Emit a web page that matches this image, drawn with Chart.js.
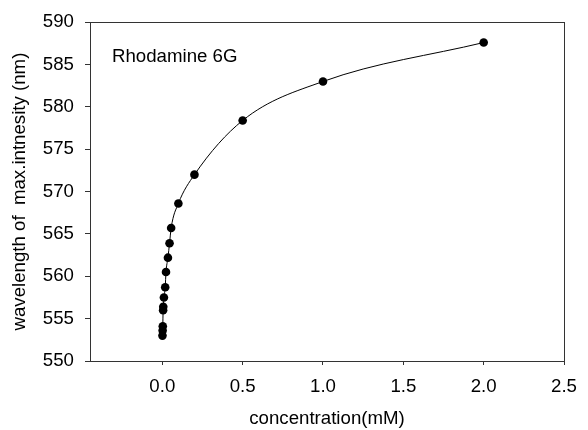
<!DOCTYPE html>
<html>
<head>
<meta charset="utf-8">
<script src="https://cdn.jsdelivr.net/npm/chart.js@4/dist/chart.umd.min.js"></script>
<style>
html,body{margin:0;padding:0;background:#fff;}
#wrap{width:588px;height:430px;position:relative;}
</style>
</head>
<body>
<div id="wrap"><canvas id="c" width="588" height="430"></canvas></div>
<script>
const concentration = [0.001, 0.002, 0.003, 0.005, 0.006, 0.01, 0.018, 0.023, 0.035, 0.045, 0.055, 0.1, 0.2, 0.5, 1.0, 2.0];
const wavelength = [553.0, 553.6, 554.1, 556.0, 556.4, 557.5, 558.7, 560.5, 562.2, 563.9, 565.7, 568.6, 572.0, 578.4, 583.0, 587.6];
const xTicks = [0.0, 0.5, 1.0, 1.5, 2.0, 2.5];
const yTicks = [550, 555, 560, 565, 570, 575, 580, 585, 590];
const xRange = [-0.45, 2.5];
const yRange = [550, 590];
const seriesLabel = 'Rhodamine 6G';
const xTitle = 'concentration(mM)';
const yTitle = 'wavelength of  max.intnesity (nm)';

const FONT = 'Arial, "Liberation Sans", sans-serif';
const FS = 18.67;

const frame = {
  id: 'frame',
  afterDatasetsDraw(chart) {
    const a = chart.chartArea, ctx = chart.ctx;
    ctx.save();
    ctx.strokeStyle = '#333';
    ctx.lineWidth = 1;
    ctx.strokeRect(Math.round(a.left) + 0.5, Math.round(a.top) + 0.5, Math.round(a.right - a.left), Math.round(a.bottom - a.top));
    ctx.fillStyle = '#000';
    ctx.font = FS + 'px ' + FONT;
    ctx.textBaseline = 'middle';
    ctx.textAlign = 'left';
    ctx.fillText(seriesLabel, a.left + 22, a.top + 34.5);
    ctx.restore();
  }
};

new Chart(document.getElementById('c'), {
  type: 'line',
  data: {
    datasets: [{
      label: seriesLabel,
      data: concentration.map((x, i) => ({x: x, y: wavelength[i]})),
      borderColor: '#000',
      borderWidth: 1,
      backgroundColor: '#000',
      pointBackgroundColor: '#000',
      pointBorderColor: '#000',
      pointRadius: 4.3,
      pointBorderWidth: 0,
      cubicInterpolationMode: 'monotone',
      fill: false
    }]
  },
  options: {
    responsive: false,
    animation: false,
    events: [],
    layout: {padding: {left: 0, right: 15, top: 21, bottom: 0}},
    plugins: {legend: {display: false}, tooltip: {enabled: false}},
    scales: {
      x: {
        type: 'linear',
        min: xRange[0], max: xRange[1],
        afterBuildTicks(s) { s.ticks = xTicks.map(v => ({value: v})); },
        afterFit(s) { s.height = 69; },
        border: {display: true, color: '#333', width: 1},
        grid: {display: true, drawOnChartArea: false, drawTicks: true, tickLength: 4, color: '#333'},
        ticks: {color: '#000', font: {family: FONT, size: FS}, padding: 11, maxRotation: 0,
                callback: v => Number(v).toFixed(1)},
        title: {display: true, text: xTitle, color: '#000', font: {family: FONT, size: FS, lineHeight: 1.0}, padding: {top: 0, bottom: 2}}
      },
      y: {
        type: 'linear',
        min: yRange[0], max: yRange[1],
        afterBuildTicks(s) { s.ticks = yTicks.map(v => ({value: v})); },
        afterFit(s) { s.width = 90; },
        border: {display: true, color: '#333', width: 1},
        grid: {display: true, drawOnChartArea: false, drawTicks: true, tickLength: 5, color: '#333'},
        ticks: {color: '#000', font: {family: FONT, size: FS}, padding: 11},
        title: {display: true, text: yTitle, color: '#000', font: {family: FONT, size: FS, lineHeight: 1.0}, padding: {top: 10.5, bottom: 0}}
      }
    }
  },
  plugins: [frame]
});
</script>
</body>
</html>
